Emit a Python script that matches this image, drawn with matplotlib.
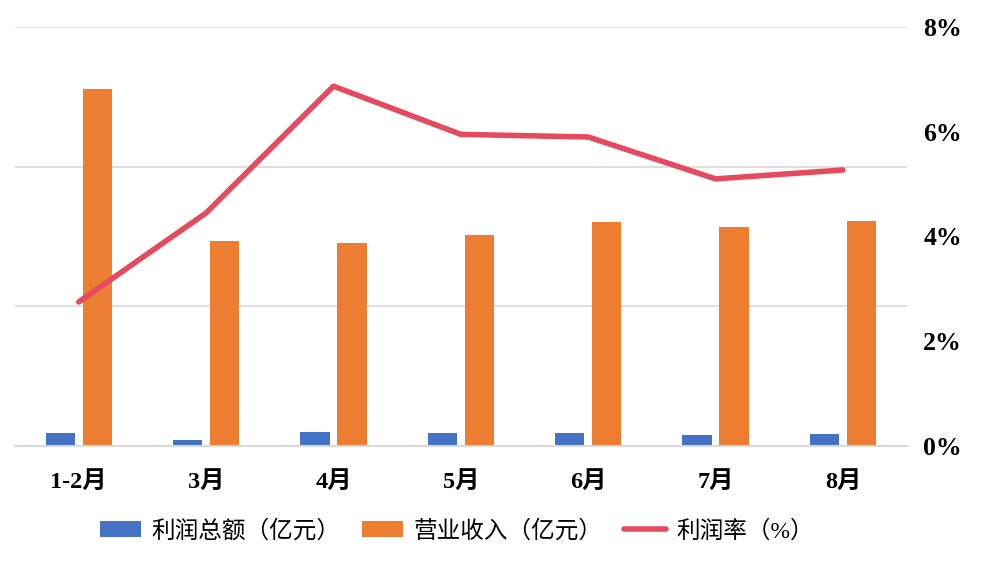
import matplotlib
matplotlib.use('Agg')
from matplotlib import pyplot as plt
import numpy as np

# data
months = ['1-2月', '3月', '4月', '5月', '6月', '7月', '8月']
profit = [46, 21, 50, 46, 46, 39, 43]            # 利润总额（亿元）
revenue = [1278, 734, 727, 755, 802, 784, 805]   # 营业收入（亿元）
margin = [2.75, 4.45, 6.87, 5.95, 5.90, 5.10, 5.27]  # 利润率（%）
pct_ticks = [0, 2, 4, 6, 8]

fonts = ['Liberation Serif', 'Noto Sans CJK SC']
plt.rcParams['font.family'] = fonts

fig = plt.figure(figsize=(10.04, 5.67), dpi=100)
ax = fig.add_axes([0.015, 0.2134, 0.888, 0.7390])
x = np.arange(len(months))
w = 0.23

ax.bar(x - 0.145, profit, w, color='#4472C4', label='利润总额（亿元）', zorder=2)
ax.bar(x + 0.145, revenue, w, color='#ED7D31', label='营业收入（亿元）', zorder=2)
ax.set_xlim(-0.5, len(months) - 0.5)
ax.set_ylim(0, 1500)
ax.set_yticks([0, 500, 1000, 1500])
ax.yaxis.grid(True, color='#D9D9D9', linewidth=1.2, zorder=0)
ax.set_xticks(x)
ax.set_xticklabels(months, fontsize=17.5, fontweight='bold')
ax.tick_params(axis='x', length=0, pad=18)
for s in ['top', 'right', 'left']:
    ax.spines[s].set_visible(False)
ax.spines['bottom'].set_color('#D9D9D9')
ax.spines['bottom'].set_linewidth(1.5)

ax2 = ax.twinx()
ax2.plot(x, margin, color='#E54B5E', linewidth=4, solid_capstyle='round',
         label='利润率（%）', zorder=3)
ax2.set_ylim(0, 8)
ax2.set_yticks(pct_ticks)
ax2.set_yticklabels([f'{t}%' for t in pct_ticks], fontsize=18.5, fontweight='bold')
ax2.tick_params(axis='y', length=0, pad=12)
for s in ax2.spines.values():
    s.set_visible(False)
# twinx turns the left ticks back on
ax.tick_params(axis='y', left=False, labelleft=False, right=False, labelright=False)

h1, l1 = ax.get_legend_handles_labels()
h2, l2 = ax2.get_legend_handles_labels()
fig.legend(h1 + h2, l1 + l2, loc='center', bbox_to_anchor=(0.455, 0.063),
           ncol=3, frameon=False, prop={'family': fonts, 'size': 17},
           handlelength=1.75, handleheight=0.65, handletextpad=0.45, columnspacing=0.9)

fig.savefig('out.png', dpi=100)
